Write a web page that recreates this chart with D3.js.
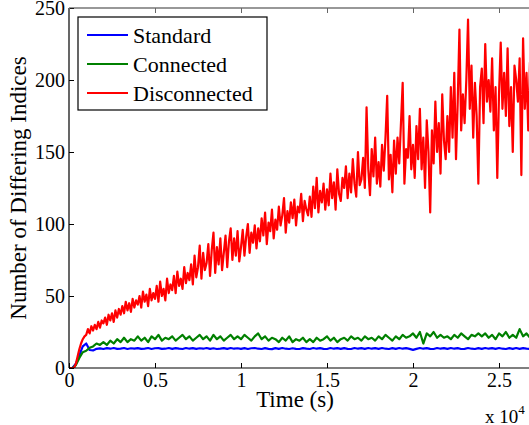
<!DOCTYPE html>
<html>
<head>
<meta charset="utf-8">
<script src="https://cdn.jsdelivr.net/npm/d3@7"></script>
<style>
  body { margin: 0; background: #fff; }
</style>
</head>
<body>
<div class="wrapper"></div>
<script>
// sizes of the figure
var ultimatew = 529,
  ultimateh = 425,
  margin = { top: 8, left: 69 },
  height = 360,
  serif = "'Liberation Serif', 'Times New Roman', serif";

// sampling steps (s) of the three series
var redStep = 100,
  lineStep = 200;

// Disconnected, one value every 100 s
var disconnected = [
  0, 0, 0, 0, 3, 8, 13, 17, 20, 22,
  23, 27, 24, 29, 26, 30, 27, 32, 28, 33,
  31, 35, 30, 37, 33, 38, 32, 40, 35, 41,
  37, 43, 38, 46, 40, 45, 39, 48, 42, 47,
  44, 50, 42, 53, 46, 51, 43, 55, 47, 52,
  48, 57, 46, 60, 50, 55, 47, 62, 52, 58,
  54, 64, 52, 67, 57, 62, 55, 70, 59, 66,
  61, 72, 58, 78, 63, 70, 85, 62, 80, 68,
  73, 86, 64, 82, 94, 66, 84, 72, 90, 68,
  80, 92, 70, 88, 97, 75, 90, 78, 95, 74,
  84, 96, 78, 91, 100, 80, 94, 87, 99, 83,
  97, 88, 104, 92, 108, 86, 101, 95, 110, 90,
  103, 96, 112, 99, 106, 118, 94, 109, 101, 115,
  104, 117, 99, 112, 108, 121, 102, 116, 110, 106,
  119, 105, 126, 111, 132, 108, 123, 115, 128, 110,
  124, 113, 135, 118, 129, 110, 138, 121, 116, 132,
  125, 140, 118, 135, 122, 145, 128, 119, 150, 127,
  131, 146, 125, 181, 138, 120, 152, 133, 160, 128,
  143, 126, 155, 137, 160, 189, 131, 148, 122, 158,
  135, 160, 142, 170, 198, 128, 152, 146, 175, 138,
  155, 132, 168, 145, 180, 138, 160, 125, 172, 150,
  108, 165, 142, 185, 150, 170, 135, 190, 158, 145,
  175, 150, 195, 160, 205, 145, 185, 235, 165, 190,
  170, 200, 242, 180, 210, 160, 198, 175, 128, 195,
  208, 170, 225, 185, 200, 178, 215, 165, 195, 132,
  190, 226, 180, 205, 175, 222, 168, 195, 150, 210,
  200, 185, 215, 134, 229, 180, 205, 165, 212, 175
];

// Connected, one value every 200 s
var connected = [
  0, 0, 2, 7, 11, 12, 14, 15, 17, 16,
  18, 16, 19, 17, 20, 18, 21, 18, 20, 19,
  22, 19, 21, 18, 22, 20, 23, 19, 21, 20,
  22, 19, 21, 23, 20, 22, 19, 21, 23, 20,
  22, 19, 23, 20, 22, 19, 21, 23, 20, 22,
  20, 23, 21, 19, 22, 24, 20, 22, 19, 21,
  20, 18, 21, 19, 22, 18, 20, 19, 21, 18,
  20, 18, 21, 19, 20, 22, 19, 21, 18, 20,
  21, 19, 22, 20, 21, 19, 22, 20, 21, 19,
  22, 20, 23, 21, 19, 22, 20, 23, 21, 22,
  24, 21, 25, 17, 24, 22, 25, 21, 23, 21,
  22, 20, 23, 21, 24, 22, 20, 23, 22, 24,
  22, 24, 21, 23, 20, 24, 22, 25, 21, 23,
  21, 27, 22, 24, 21
];

// Standard, one value every 200 s
var standard = [
  0, 0, 3, 9, 15, 17, 12.5, 12.2, 13.3, 13.6,
  13.2, 13.8, 13.4, 13.9, 13.3, 13.5, 13.9, 13.2, 13.7, 13.4,
  13.8, 13.3, 13.5, 13.9, 13.2, 13.7, 13.8, 13.3, 13.4, 13.9,
  13.3, 13.8, 13.4, 13.2, 13.9, 13.4, 13.8, 13.3, 13.7, 13.4,
  13.9, 13.3, 13.7, 13.2, 13.4, 13.8, 13.3, 13.9, 13.4, 13.7,
  13.3, 13.8, 13.2, 13.7, 13.9, 13.4, 13.2, 13.8, 13.3, 13.1,
  13.8, 13.3, 13.9, 13.4, 13.2, 13.7, 13.3, 13.2, 13.8, 13.4,
  13.2, 13.9, 13.4, 13.8, 13.3, 13.2, 13.9, 13.4, 13.8, 13.3,
  13.8, 13.3, 13.2, 13.9, 13.4, 13.8, 13.3, 13.9, 13.4, 13.8,
  13.3, 13.9, 13.4, 13.2, 13.8, 13.3, 13.9, 13.4, 13.8, 13.3,
  12.6, 13.3, 13.9, 13.4, 13.8, 13.3, 13.2, 13.9, 13.4, 13.8,
  13.3, 13.9, 13.4, 13.8, 13.2, 13.3, 13.9, 13.4, 13.2, 13.8,
  13.3, 13.9, 13.4, 13.8, 13.3, 13.9, 13.4, 13.2, 13.8, 13.3,
  13.9, 13.3, 13.8, 13.4, 13.2
];

var series = [
  { label: "Standard", color: "#0000ff", step: lineStep, values: standard },
  { label: "Connected", color: "#008000", step: lineStep, values: connected },
  { label: "Disconnected", color: "#ff0000", step: redStep, values: disconnected }
];

var xTicks = [0, 5000, 10000, 15000, 20000, 25000];
var xTickLabels = ["0", "0.5", "1", "1.5", "2", "2.5"];
var yTicks = [0, 50, 100, 150, 200, 250];

var svg = d3
  .select(".wrapper")
  .append("svg")
  .attr("width", ultimatew)
  .attr("height", ultimateh);

var x = d3.scaleLinear().domain([0, 27000]).range([margin.left, margin.left + 464.4]);
var y = d3.scaleLinear().domain([0, 250]).range([margin.top + height, margin.top]);

svg.append("defs")
  .append("clipPath")
  .attr("id", "plotClip")
  .append("rect")
  .attr("x", margin.left)
  .attr("y", margin.top)
  .attr("width", ultimatew - margin.left)
  .attr("height", height);

// the three curves, red drawn last so it sits on top
var line = d3.line()
  .x(function(d) { return x(d.t); })
  .y(function(d) { return y(d.v); });

var plot = svg.append("g").attr("clip-path", "url(#plotClip)");
series.forEach(function(s) {
  var pts = s.values.map(function(v, i) { return { t: i * s.step, v: v }; });
  plot.append("path")
    .datum(pts)
    .attr("fill", "none")
    .attr("stroke", s.color)
    .attr("stroke-width", 2.2)
    .attr("stroke-linejoin", "round")
    .attr("d", line);
});

// axes (MATLAB style, ticks inward)
var axisL = svg.append("g")
  .attr("transform", "translate(" + margin.left + ",0)")
  .call(d3.axisLeft(y).tickValues(yTicks).tickSize(-5).tickPadding(4));
var axisB = svg.append("g")
  .attr("transform", "translate(0," + (margin.top + height) + ")")
  .call(d3.axisBottom(x).tickValues(xTicks).tickFormat(function(d, i) { return xTickLabels[i]; })
    .tickSize(-5).tickPadding(5));
var axisT = svg.append("g")
  .attr("transform", "translate(0," + margin.top + ")")
  .call(d3.axisTop(x).tickValues(xTicks).tickFormat("").tickSize(-5));

[axisL, axisB, axisT].forEach(function(a) {
  a.attr("font-family", serif);
  a.select(".domain").attr("stroke", "#000").attr("stroke-width", 1.2);
  a.selectAll(".tick line").attr("stroke", "#000");
  a.selectAll(".tick text")
    .style("font-family", serif)
    .style("font-size", "20px")
    .attr("fill", "#000");
});
axisL.select(".domain").attr("d", "M0," + margin.top + "V" + (margin.top + height));
axisB.select(".domain").attr("d", "M" + margin.left + ",0H" + ultimatew);
axisT.select(".domain").attr("d", "M" + margin.left + ",0H" + ultimatew).attr("stroke", "#333");
axisT.selectAll(".tick line").attr("stroke", "#666");

// axis labels
svg.append("text")
  .attr("x", 295)
  .attr("y", 407)
  .attr("text-anchor", "middle")
  .style("font-family", serif)
  .style("font-size", "23px")
  .text("Time (s)");

svg.append("text")
  .attr("transform", "translate(26,188) rotate(-90)")
  .attr("text-anchor", "middle")
  .style("font-family", serif)
  .style("font-size", "23px")
  .text("Number of Differing Indices");

var expo = svg.append("text")
  .attr("x", 485)
  .attr("y", 423)
  .style("font-family", serif)
  .style("font-size", "19px");
expo.append("tspan").text("x 10");
expo.append("tspan").attr("dy", -9).style("font-size", "13px").text("4");

// legend
var legend = svg.append("g").attr("transform", "translate(78,17)");
legend.append("rect")
  .attr("width", 189)
  .attr("height", 93)
  .attr("fill", "#fff")
  .attr("stroke", "#000")
  .attr("stroke-width", 1.2);
series.forEach(function(s, i) {
  var row = legend.append("g").attr("transform", "translate(0," + (18 + i * 29) + ")");
  row.append("line")
    .attr("x1", 9).attr("x2", 50)
    .attr("stroke", s.color)
    .attr("stroke-width", 2);
  row.append("text")
    .attr("x", 55)
    .attr("dy", "0.35em")
    .style("font-family", serif)
    .style("font-size", "22px")
    .text(s.label);
});
</script>
</body>
</html>
